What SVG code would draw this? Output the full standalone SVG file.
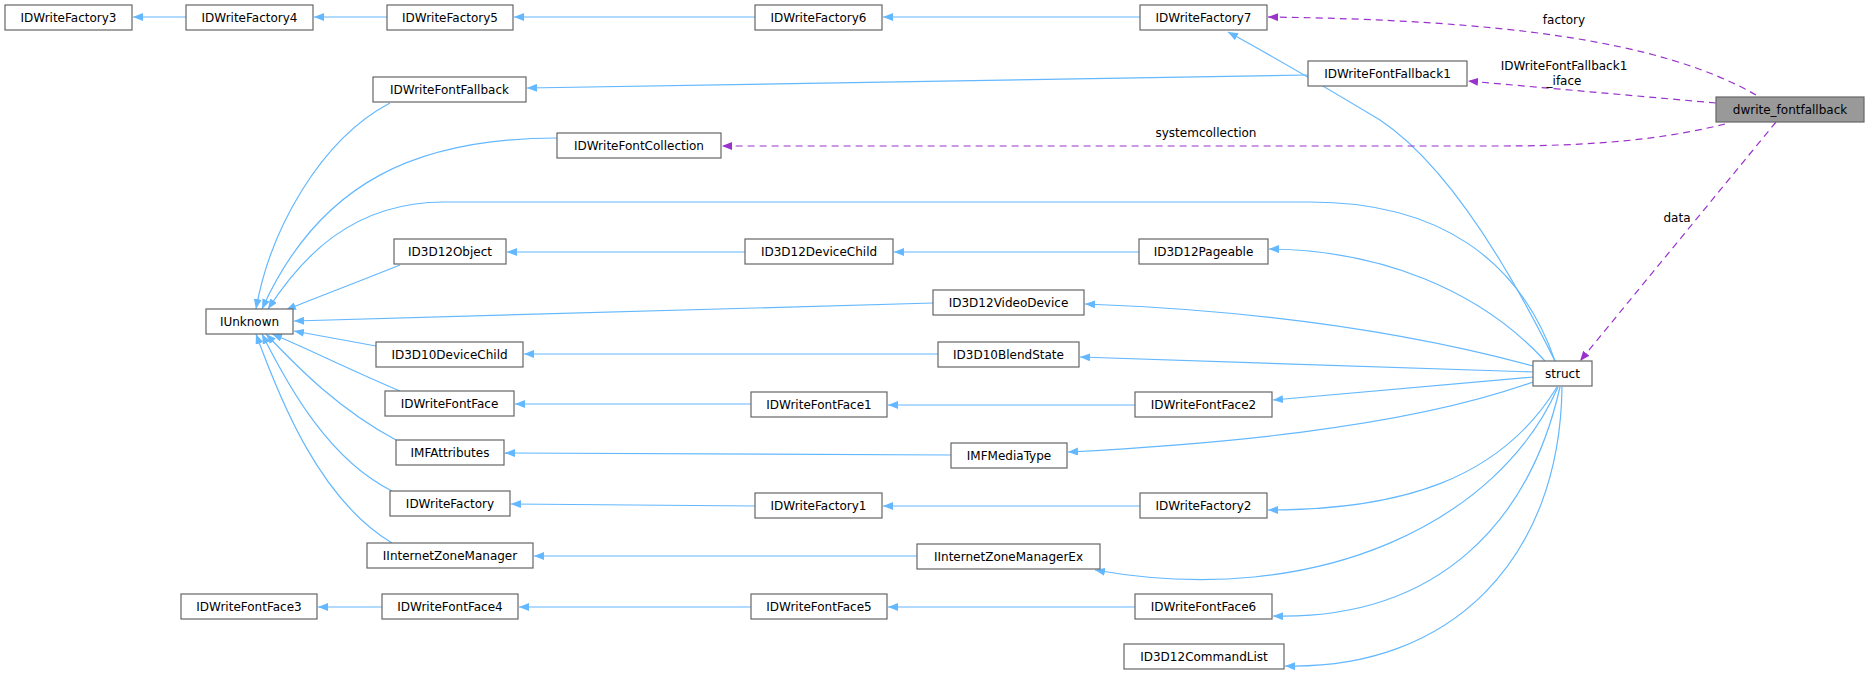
<svg xmlns="http://www.w3.org/2000/svg" width="1869" height="675" viewBox="0 0 1869 675">
<defs>
<marker id="ab" viewBox="0 0 10 8" refX="10" refY="4" markerWidth="10" markerHeight="8" markerUnits="userSpaceOnUse" orient="auto"><path d="M0,0 L10,4 L0,8 z" fill="#63b8ff"/></marker>
<marker id="ap" viewBox="0 0 10 8" refX="10" refY="4" markerWidth="10" markerHeight="8" markerUnits="userSpaceOnUse" orient="auto"><path d="M0,0 L10,4 L0,8 z" fill="#9a32cd"/></marker>
</defs>
<style>
.n rect{fill:#fff;stroke:#666;stroke-width:1.2}
.h rect{fill:#999;stroke:#666;stroke-width:1.2}
text{font-family:"DejaVu Sans",sans-serif;font-size:12px;fill:#000;text-anchor:middle}
.e path{fill:none;stroke:#63b8ff;stroke-width:1.2;marker-end:url(#ab)}
.d path{fill:none;stroke:#9a32cd;stroke-width:1.2;stroke-dasharray:7,5;marker-end:url(#ap)}
</style>
<rect width="1869" height="675" fill="#fff"/>
<g id="connectors">
<g class="e">
<path d="M186,17 L133,17"/>
<path d="M387,17 L314,17"/>
<path d="M755,17 L514,17"/>
<path d="M1140,17 L883,17"/>
<path d="M1555,361 C1500,250 1440,160 1380,120 C1330,90 1280,60 1228,32"/>
<path d="M1308,75 L527,88"/>
<path d="M390,103 C320,140 270,230 256,309"/>
<path d="M557,138 C420,138 320,180 262,309"/>
<path d="M1555,361 C1520,260 1440,202 1310,202 L444,202 C350,202 300,260 268,309"/>
<path d="M400,265 C350,285 310,300 286,310"/>
<path d="M745,252 L507,252"/>
<path d="M1139,252 L894,252"/>
<path d="M1545,361 C1480,290 1380,250 1269,249"/>
<path d="M933,303 L294,321"/>
<path d="M1533,366 C1400,330 1250,310 1085,304"/>
<path d="M376,346 L294,331"/>
<path d="M938,354 L524,354"/>
<path d="M1533,372 L1080,357"/>
<path d="M400,391 C350,370 300,345 272,334"/>
<path d="M751,404 L515,404"/>
<path d="M1135,405 L888,405"/>
<path d="M1533,377 L1273,400"/>
<path d="M396,440 C340,410 300,370 266,334"/>
<path d="M951,455 L505,453"/>
<path d="M1533,382 C1400,430 1200,445 1068,452"/>
<path d="M392,491 C330,460 290,390 262,334"/>
<path d="M755,506 L511,504"/>
<path d="M1140,506 L883,506"/>
<path d="M1557,387 C1500,480 1400,510 1268,510"/>
<path d="M392,543 C320,500 280,400 256,334"/>
<path d="M917,556 L534,556"/>
<path d="M1558,387 C1500,520 1320,610 1095,570"/>
<path d="M382,607 L318,607"/>
<path d="M751,607 L519,607"/>
<path d="M1135,607 L888,607"/>
<path d="M1560,387 C1530,520 1440,620 1273,616"/>
<path d="M1562,387 C1560,560 1450,670 1285,666"/>
</g>
<g class="d">
<path d="M1756,95 C1660,40 1500,20 1268,17"/>
<path d="M1716,103 L1468,81"/>
<path d="M1725,124 C1680,135 1620,146 1500,146 L722,146"/>
<path d="M1776,122 L1580,361"/>
</g>
<text x="1564" y="24">factory</text>
<text x="1564" y="70">IDWriteFontFallback1</text>
<text x="1564" y="85">_iface</text>
<text x="1206" y="137">systemcollection</text>
<text x="1677" y="222">data</text>
</g>
<g id="IDWriteFactory3" class="n"><rect x="5" y="5" width="127" height="25"/><text x="68.5" y="21.5">IDWriteFactory3</text></g>
<g id="IDWriteFactory4" class="n"><rect x="186" y="5" width="127" height="25"/><text x="249.5" y="21.5">IDWriteFactory4</text></g>
<g id="IDWriteFactory5" class="n"><rect x="387" y="5" width="126" height="25"/><text x="450" y="21.5">IDWriteFactory5</text></g>
<g id="IDWriteFactory6" class="n"><rect x="755" y="5" width="127" height="25"/><text x="818.5" y="21.5">IDWriteFactory6</text></g>
<g id="IDWriteFactory7" class="n"><rect x="1140" y="5" width="127" height="25"/><text x="1203.5" y="21.5">IDWriteFactory7</text></g>
<g id="IDWriteFontFallback1" class="n"><rect x="1308" y="61" width="159" height="25"/><text x="1387.5" y="77.5">IDWriteFontFallback1</text></g>
<g id="dwrite_fontfallback" class="h"><rect x="1716" y="97" width="148" height="25"/><text x="1790" y="113.5">dwrite_fontfallback</text></g>
<g id="IDWriteFontFallback" class="n"><rect x="373" y="77" width="153" height="25"/><text x="449.5" y="93.5">IDWriteFontFallback</text></g>
<g id="IDWriteFontCollection" class="n"><rect x="557" y="133" width="164" height="25"/><text x="639" y="149.5">IDWriteFontCollection</text></g>
<g id="ID3D12Object" class="n"><rect x="394" y="239" width="112" height="25"/><text x="450" y="255.5">ID3D12Object</text></g>
<g id="ID3D12DeviceChild" class="n"><rect x="745" y="239" width="148" height="25"/><text x="819" y="255.5">ID3D12DeviceChild</text></g>
<g id="ID3D12Pageable" class="n"><rect x="1139" y="239" width="129" height="25"/><text x="1203.5" y="255.5">ID3D12Pageable</text></g>
<g id="IUnknown" class="n"><rect x="206" y="309" width="87" height="25"/><text x="249.5" y="325.5">IUnknown</text></g>
<g id="ID3D12VideoDevice" class="n"><rect x="933" y="290" width="151" height="25"/><text x="1008.5" y="306.5">ID3D12VideoDevice</text></g>
<g id="ID3D10DeviceChild" class="n"><rect x="376" y="342" width="147" height="25"/><text x="449.5" y="358.5">ID3D10DeviceChild</text></g>
<g id="ID3D10BlendState" class="n"><rect x="938" y="342" width="141" height="25"/><text x="1008.5" y="358.5">ID3D10BlendState</text></g>
<g id="struct" class="n"><rect x="1533" y="361" width="59" height="25"/><text x="1562.5" y="377.5">struct</text></g>
<g id="IDWriteFontFace" class="n"><rect x="385" y="391" width="129" height="25"/><text x="449.5" y="407.5">IDWriteFontFace</text></g>
<g id="IDWriteFontFace1" class="n"><rect x="751" y="392" width="136" height="25"/><text x="819" y="408.5">IDWriteFontFace1</text></g>
<g id="IDWriteFontFace2" class="n"><rect x="1135" y="392" width="137" height="25"/><text x="1203.5" y="408.5">IDWriteFontFace2</text></g>
<g id="IMFAttributes" class="n"><rect x="396" y="440" width="108" height="25"/><text x="450" y="456.5">IMFAttributes</text></g>
<g id="IMFMediaType" class="n"><rect x="951" y="443" width="116" height="25"/><text x="1009" y="459.5">IMFMediaType</text></g>
<g id="IDWriteFactory" class="n"><rect x="390" y="491" width="120" height="25"/><text x="450" y="507.5">IDWriteFactory</text></g>
<g id="IDWriteFactory1" class="n"><rect x="755" y="493" width="127" height="25"/><text x="818.5" y="509.5">IDWriteFactory1</text></g>
<g id="IDWriteFactory2" class="n"><rect x="1140" y="493" width="127" height="25"/><text x="1203.5" y="509.5">IDWriteFactory2</text></g>
<g id="IInternetZoneManager" class="n"><rect x="367" y="543" width="166" height="25"/><text x="450" y="559.5">IInternetZoneManager</text></g>
<g id="IInternetZoneManagerEx" class="n"><rect x="917" y="544" width="183" height="25"/><text x="1008.5" y="560.5">IInternetZoneManagerEx</text></g>
<g id="IDWriteFontFace3" class="n"><rect x="181" y="594" width="136" height="25"/><text x="249" y="610.5">IDWriteFontFace3</text></g>
<g id="IDWriteFontFace4" class="n"><rect x="382" y="594" width="136" height="25"/><text x="450" y="610.5">IDWriteFontFace4</text></g>
<g id="IDWriteFontFace5" class="n"><rect x="751" y="594" width="136" height="25"/><text x="819" y="610.5">IDWriteFontFace5</text></g>
<g id="IDWriteFontFace6" class="n"><rect x="1135" y="594" width="137" height="25"/><text x="1203.5" y="610.5">IDWriteFontFace6</text></g>
<g id="ID3D12CommandList" class="n"><rect x="1124" y="644" width="160" height="25"/><text x="1204" y="660.5">ID3D12CommandList</text></g>
</svg>
